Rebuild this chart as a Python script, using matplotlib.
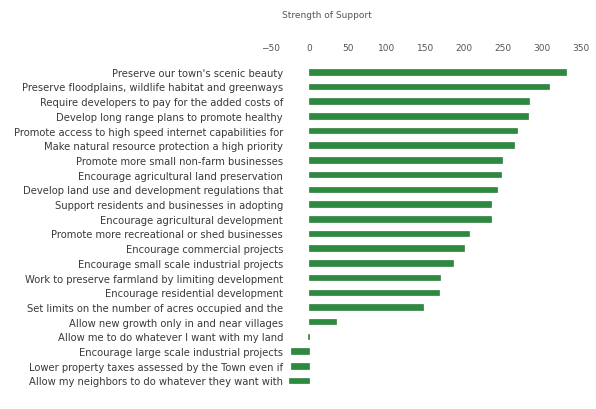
import matplotlib
matplotlib.use("Agg")
import matplotlib.pyplot as plt

# survey items (truncated as in the original) and strength of support
items = [
    "Preserve our town's scenic beauty",
    "Preserve floodplains, wildlife habitat and greenways",
    "Require developers to pay for the added costs of",
    "Develop long range plans to promote healthy",
    "Promote access to high speed internet capabilities for",
    "Make natural resource protection a high priority",
    "Promote more small non-farm businesses",
    "Encourage agricultural land preservation",
    "Develop land use and development regulations that",
    "Support residents and businesses in adopting",
    "Encourage agricultural development",
    "Promote more recreational or shed businesses",
    "Encourage commercial projects",
    "Encourage small scale industrial projects",
    "Work to preserve farmland by limiting development",
    "Encourage residential development",
    "Set limits on the number of acres occupied and the",
    "Allow new growth only in and near villages",
    "Allow me to do whatever I want with my land",
    "Encourage large scale industrial projects",
    "Lower property taxes assessed by the Town even if",
    "Allow my neighbors to do whatever they want with",
]
support = [331, 309, 284, 282, 268, 264, 249, 247, 242, 235, 235,
           206, 200, 185, 169, 168, 147, 35, -2, -24, -24, -26]
xticks = [-50, 0, 50, 100, 150, 200, 250, 300, 350]

fig = plt.figure(figsize=(5.96, 4.10), dpi=100)
ax = fig.add_axes([0.454, 0.048, 0.520, 0.796])

ypos = list(range(len(items)))
ax.barh(ypos, support, height=0.38, color="#2b8a3e", edgecolor="#1f6b2e", linewidth=0.4)
ax.set_ylim(len(items) - 0.4, -0.6)
ax.set_xlim(-50, 350)

ax.set_yticks(ypos)
ax.set_yticklabels(items, fontsize=7.2, color="#3a3a3a")
ax.tick_params(axis="y", length=0, pad=-9)

ax.set_xticks(xticks)
ax.xaxis.tick_top()
ax.tick_params(axis="x", length=0, labelsize=6.5, labelcolor="#555555", pad=8)

for s in ax.spines.values():
    s.set_visible(False)

fig.text(327 / 596, 1 - 16 / 410, "Strength of Support", ha="center", va="center",
         fontsize=6.5, color="#555555")

fig.savefig("out.png", dpi=100)
